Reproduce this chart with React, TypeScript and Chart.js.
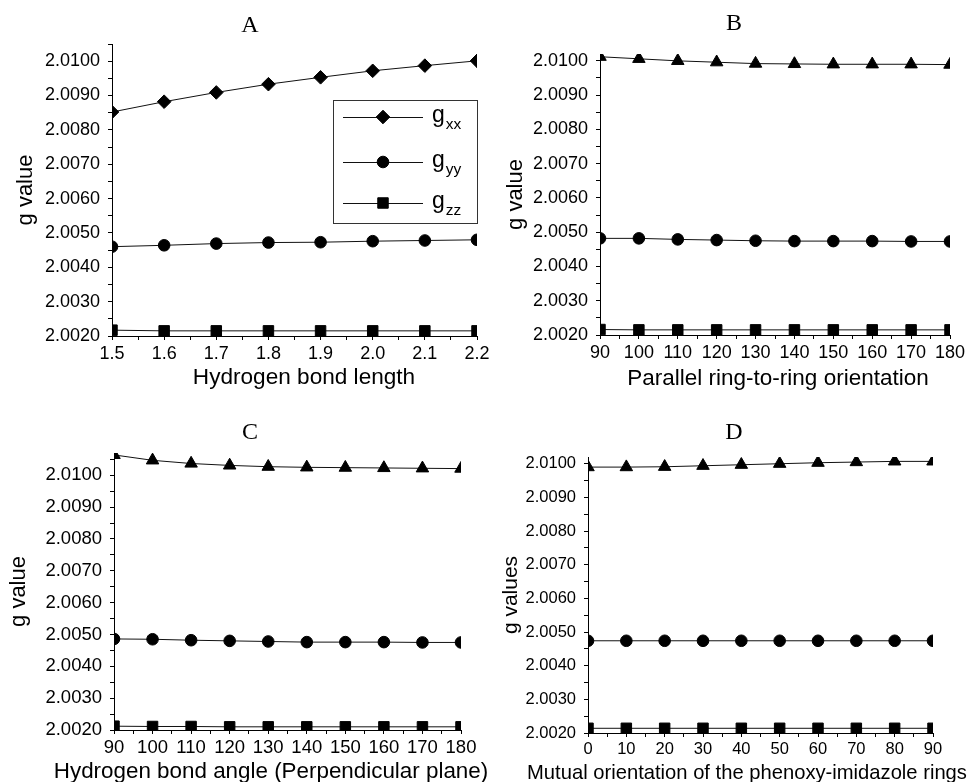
import React, { useEffect, useRef } from 'react';
import { Chart, registerables } from 'chart.js';

Chart.register(...registerables);

// ---------- data ----------
const SERIES = ['gxx', 'gyy', 'gzz'];

const Y_TICK_LABELS = ['2.0020', '2.0030', '2.0040', '2.0050', '2.0060', '2.0070', '2.0080', '2.0090', '2.0100'];

const X_TICK_LABELS_A = ['1.5', '1.6', '1.7', '1.8', '1.9', '2.0', '2.1', '2.2'];
const X_TICK_LABELS_B = ['90', '100', '110', '120', '130', '140', '150', '160', '170', '180'];
const X_TICK_LABELS_C = ['90', '100', '110', '120', '130', '140', '150', '160', '170', '180'];
const X_TICK_LABELS_D = ['0', '10', '20', '30', '40', '50', '60', '70', '80', '90'];

const xA = [1.5, 1.6, 1.7, 1.8, 1.9, 2.0, 2.1, 2.2];
const gxxA = [2.00852, 2.00882, 2.00909, 2.00933, 2.00953, 2.00972, 2.00987, 2.01001];
const gyyA = [2.0046, 2.00464, 2.00469, 2.00472, 2.00473, 2.00476, 2.00478, 2.0048];
const gzzA = [2.00217, 2.00215, 2.00215, 2.00215, 2.00215, 2.00215, 2.00215, 2.00215];

const xB = [90, 100, 110, 120, 130, 140, 150, 160, 170, 180];
const gxxB = [2.01012, 2.01006, 2.01, 2.00996, 2.00992, 2.00991, 2.0099, 2.0099, 2.0099, 2.00989];
const gyyB = [2.00482, 2.00482, 2.00479, 2.00477, 2.00475, 2.00474, 2.00474, 2.00474, 2.00473, 2.00473];
const gzzB = [2.00216, 2.00215, 2.00215, 2.00215, 2.00215, 2.00215, 2.00215, 2.00215, 2.00215, 2.00215];

const xC = [90, 100, 110, 120, 130, 140, 150, 160, 170, 180];
const gxxC = [2.01064, 2.01047, 2.01037, 2.01031, 2.01027, 2.01025, 2.01024, 2.01023, 2.01022, 2.01021];
const gyyC = [2.00486, 2.00485, 2.00482, 2.0048, 2.00478, 2.00476, 2.00476, 2.00476, 2.00475, 2.00475];
const gzzC = [2.00212, 2.00211, 2.00211, 2.0021, 2.0021, 2.0021, 2.0021, 2.0021, 2.0021, 2.0021];

const xD = [0, 10, 20, 30, 40, 50, 60, 70, 80, 90];
const gxxD = [2.0099, 2.0099, 2.00991, 2.00994, 2.00997, 2.01, 2.01003, 2.01005, 2.01007, 2.01007];
const gyyD = [2.00474, 2.00474, 2.00474, 2.00474, 2.00474, 2.00474, 2.00474, 2.00474, 2.00474, 2.00474];
const gzzD = [2.00214, 2.00214, 2.00214, 2.00214, 2.00214, 2.00214, 2.00214, 2.00214, 2.00214, 2.00214];

// ---------- styling ----------
const SANS = '"Liberation Sans", Arial, sans-serif';
const SERIF = '"Liberation Serif", "Times New Roman", serif';

type Plot = { l: number; r: number; t: number; b: number };
type PanelDef = {
  letter: string;
  left: number; top: number; w: number; h: number;
  plot: Plot;
  x: number[];
  series: number[][];
  styles: string[];
  radii: number[];
  xTickLabels: string[];
  xMinor: number;
  yMax: number;
  yTitle: string; yTitleSize: number; yTitlePad: number;
  xTitle: string; xTitleSize: number; xTitleX: number; xTitleY: number;
  letterX: number; letterY: number;
  tickSize: number;
  legend?: boolean;
};

const PANELS: PanelDef[] = [
  {
    letter: 'A', left: 0, top: 0, w: 496, h: 391,
    plot: { l: 112, r: 477, t: 44, b: 336 },
    x: xA, series: [gxxA, gyyA, gzzA],
    styles: ['rectRot', 'circle', 'rect'], radii: [6.8, 5.8, 7.4],
    xTickLabels: X_TICK_LABELS_A, xMinor: 0.05, yMax: 2.0105,
    yTitle: 'g value', yTitleSize: 22, yTitlePad: 12.8,
    xTitle: 'Hydrogen bond length', xTitleSize: 22.6, xTitleX: 304, xTitleY: 384,
    letterX: 250, letterY: 25.5, tickSize: 18, legend: true,
  },
  {
    letter: 'B', left: 496, top: 0, w: 476, h: 391,
    plot: { l: 104, r: 454, t: 54, b: 335 },
    x: xB, series: [gxxB, gyyB, gzzB],
    styles: ['triangle', 'circle', 'rect'], radii: [7.2, 5.8, 7.4],
    xTickLabels: X_TICK_LABELS_B, xMinor: 5, yMax: 2.0102,
    yTitle: 'g value', yTitleSize: 22, yTitlePad: 6.8,
    xTitle: 'Parallel ring-to-ring orientation', xTitleSize: 22.5, xTitleX: 282, xTitleY: 385,
    letterX: 238, letterY: 24, tickSize: 18,
  },
  {
    letter: 'C', left: 0, top: 391, w: 496, h: 391,
    plot: { l: 114, r: 461, t: 62, b: 339 },
    x: xC, series: [gxxC, gyyC, gzzC],
    styles: ['triangle', 'circle', 'rect'], radii: [7.2, 5.8, 7.4],
    xTickLabels: X_TICK_LABELS_C, xMinor: 5, yMax: 2.0107,
    yTitle: 'g value', yTitleSize: 22, yTitlePad: 5.8,
    xTitle: 'Hydrogen bond angle (Perpendicular plane)', xTitleSize: 22.4, xTitleX: 271, xTitleY: 387,
    letterX: 250, letterY: 41.5, tickSize: 18.5,
  },
  {
    letter: 'D', left: 496, top: 391, w: 476, h: 391,
    plot: { l: 92, r: 437, t: 66, b: 342 },
    x: xD, series: [gxxD, gyyD, gzzD],
    styles: ['triangle', 'circle', 'rect'], radii: [7.2, 5.8, 7.4],
    xTickLabels: X_TICK_LABELS_D, xMinor: 5, yMax: 2.0102,
    yTitle: 'g values', yTitleSize: 21, yTitlePad: 2.4,
    xTitle: 'Mutual orientation of the phenoxy-imidazole rings', xTitleSize: 20.2, xTitleX: 251, xTitleY: 388,
    letterX: 238, letterY: 42, tickSize: 16.5,
  },
];

type TickDef = { value: number; label: string };

function makeTicks(labels: string[], minorStep: number, max: number): TickDef[] {
  const out: TickDef[] = [];
  const r = (v: number) => Math.round(v * 1e6) / 1e6;
  const majors = labels.map((l) => parseFloat(l));
  majors.forEach((v, i) => {
    out.push({ value: v, label: labels[i] });
    const m = r(v + minorStep);
    if (m <= max + 1e-9) out.push({ value: m, label: '' });
  });
  let last = r(majors[majors.length - 1] + minorStep);
  while (r(last + 2 * minorStep) <= max + 1e-9) {
    last = r(last + 2 * minorStep);
    out.push({ value: last, label: '' });
  }
  return out.sort((a, b) => a.value - b.value);
}

function drawMarker(ctx: CanvasRenderingContext2D, style: string, x: number, y: number, r: number) {
  ctx.beginPath();
  if (style === 'circle') {
    ctx.arc(x, y, r, 0, Math.PI * 2);
  } else if (style === 'rectRot') {
    ctx.moveTo(x - r, y);
    ctx.lineTo(x, y - r);
    ctx.lineTo(x + r, y);
    ctx.lineTo(x, y + r);
    ctx.closePath();
  } else if (style === 'rect') {
    const s = r * Math.SQRT1_2;
    ctx.rect(x - s, y - s, 2 * s, 2 * s);
  } else {
    ctx.moveTo(x, y - r);
    ctx.lineTo(x + r * Math.sin(Math.PI / 3), y + r / 2);
    ctx.lineTo(x - r * Math.sin(Math.PI / 3), y + r / 2);
    ctx.closePath();
  }
  ctx.fillStyle = '#000';
  ctx.fill();
  ctx.strokeStyle = '#000';
  ctx.lineWidth = 1;
  ctx.stroke();
}

const panelTextPlugin = {
  id: 'panelText',
  afterDraw(chart: any, _args: any, o: any) {
    if (!o || !o.letter) return;
    const ctx: CanvasRenderingContext2D = chart.ctx;
    ctx.save();
    ctx.fillStyle = '#000';
    ctx.textAlign = 'center';
    ctx.textBaseline = 'middle';
    ctx.font = `24px ${SERIF}`;
    ctx.fillText(o.letter, o.letterX, o.letterY);
    ctx.textBaseline = 'alphabetic';
    ctx.font = `${o.xTitleSize}px ${SANS}`;
    ctx.fillText(o.xTitle, o.xTitleX, o.xTitleY);
    ctx.restore();
  },
};

const gLegendPlugin = {
  id: 'gLegend',
  afterDraw(chart: any, _args: any, o: any) {
    if (!o || !o.show) return;
    const ctx: CanvasRenderingContext2D = chart.ctx;
    ctx.save();
    ctx.fillStyle = '#fff';
    ctx.fillRect(o.x, o.y, o.w, o.h);
    ctx.strokeStyle = '#333';
    ctx.lineWidth = 1;
    ctx.strokeRect(o.x + 0.5, o.y + 0.5, o.w, o.h);
    chart.data.datasets.forEach((ds: any, i: number) => {
      const cy = o.y + o.rows[i];
      ctx.beginPath();
      ctx.moveTo(o.x + o.lineX0, cy + 0.5);
      ctx.lineTo(o.x + o.lineX1, cy + 0.5);
      ctx.strokeStyle = '#111';
      ctx.lineWidth = 1;
      ctx.stroke();
      drawMarker(ctx, ds.pointStyle, o.x + o.markX, cy, ds.pointRadius);
      const label: string = ds.label;
      const main = label.slice(0, 1);
      const sub = label.slice(1);
      ctx.fillStyle = '#000';
      ctx.textAlign = 'left';
      ctx.textBaseline = 'alphabetic';
      ctx.font = `23px ${SANS}`;
      ctx.fillText(main, o.x + o.textX, cy + 5);
      const mw = ctx.measureText(main).width;
      ctx.font = `15.5px ${SANS}`;
      ctx.fillText(sub, o.x + o.textX + mw + 1, cy + 12);
    });
    ctx.restore();
  },
};

function buildConfig(p: PanelDef): any {
  const yTicks = makeTicks(Y_TICK_LABELS, 0.0005, p.yMax);
  const xMax = parseFloat(p.xTickLabels[p.xTickLabels.length - 1]);
  const xMin = parseFloat(p.xTickLabels[0]);
  const xTicks = makeTicks(p.xTickLabels, p.xMinor, xMax);

  const datasets = SERIES.map((name, i) => ({
    label: name,
    data: p.x.map((xv, j) => ({ x: xv, y: p.series[i][j] })),
    borderColor: '#111',
    borderWidth: 1,
    tension: 0,
    fill: false,
    pointStyle: p.styles[i],
    pointRadius: p.radii[i],
    pointHoverRadius: p.radii[i],
    pointBackgroundColor: '#000',
    pointBorderColor: '#000',
    pointBorderWidth: 1,
  }));

  const grid = {
    display: true,
    drawOnChartArea: false,
    drawTicks: true,
    tickLength: 4,
    tickColor: '#000',
    tickWidth: 1,
    color: '#000',
  };
  const border = { display: true, color: '#000', width: 1 };

  return {
    type: 'line',
    data: { datasets },
    options: {
      responsive: false,
      maintainAspectRatio: false,
      animation: false,
      devicePixelRatio: 1,
      events: [],
      layout: { padding: { left: 0, right: p.w - p.plot.r, top: p.plot.t, bottom: 0 } },
      plugins: {
        legend: { display: false },
        tooltip: { enabled: false },
        title: { display: false },
        panelText: {
          letter: p.letter, letterX: p.letterX, letterY: p.letterY,
          xTitle: p.xTitle, xTitleSize: p.xTitleSize, xTitleX: p.xTitleX, xTitleY: p.xTitleY,
        },
        gLegend: p.legend
          ? { show: true, x: 333, y: 100, w: 144, h: 123, rows: [17, 62, 103], lineX0: 10, lineX1: 90, markX: 50, textX: 99 }
          : { show: false },
      },
      scales: {
        x: {
          type: 'linear',
          min: xMin,
          max: xMax,
          afterBuildTicks: (s: any) => {
            s.ticks = xTicks.map((t) => ({ value: t.value }));
          },
          afterFit: (s: any) => {
            s.height = p.h - p.plot.b;
            s.paddingLeft = 0;
            s.paddingRight = 0;
          },
          ticks: {
            autoSkip: false,
            maxRotation: 0,
            minRotation: 0,
            padding: 3,
            color: '#000',
            font: { family: SANS, size: p.tickSize },
            callback: (_v: any, i: number) => xTicks[i].label,
          },
          grid,
          border,
        },
        y: {
          type: 'linear',
          min: 2.002,
          max: p.yMax,
          afterBuildTicks: (s: any) => {
            s.ticks = yTicks.map((t) => ({ value: t.value }));
          },
          afterFit: (s: any) => {
            s.width = p.plot.l;
            s.paddingTop = 0;
            s.paddingBottom = 0;
          },
          ticks: {
            autoSkip: false,
            padding: 8,
            color: '#000',
            font: { family: SANS, size: p.tickSize },
            callback: (_v: any, i: number) => yTicks[i].label,
          },
          title: {
            display: true,
            text: p.yTitle,
            color: '#000',
            font: { family: SANS, size: p.yTitleSize },
            padding: { top: p.yTitlePad, bottom: 0 },
          },
          grid,
          border,
        },
      },
    },
    plugins: [panelTextPlugin, gLegendPlugin],
  };
}

function PanelChart({ p }: { p: PanelDef }) {
  const ref = useRef<HTMLCanvasElement>(null);
  useEffect(() => {
    if (!ref.current) return;
    const chart = new Chart(ref.current, buildConfig(p));
    return () => chart.destroy();
  }, [p]);
  return (
    <canvas
      ref={ref}
      width={p.w}
      height={p.h}
      style={{ position: 'absolute', left: p.left, top: p.top, width: p.w, height: p.h, display: 'block' }}
    />
  );
}

export default function App() {
  return (
    <div style={{ position: 'absolute', left: 0, top: 0, width: 972, height: 782, background: '#fff', overflow: 'hidden' }}>
      {PANELS.map((p) => (
        <PanelChart key={p.letter} p={p} />
      ))}
    </div>
  );
}
